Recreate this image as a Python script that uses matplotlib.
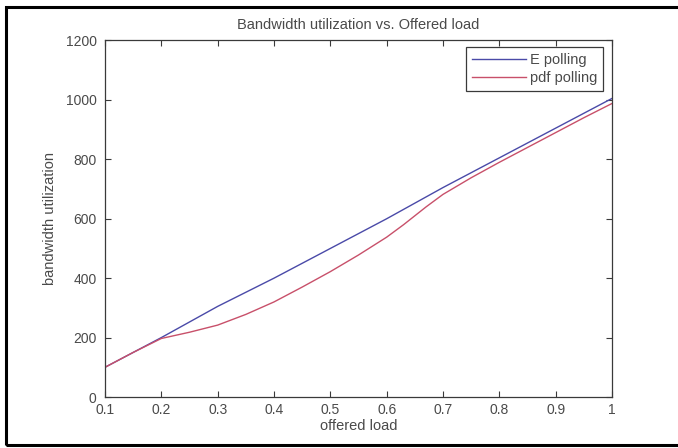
import matplotlib.pyplot as plt
from matplotlib.patches import Rectangle

# offered load vs. bandwidth utilization
load_e = [0.1, 0.2, 0.3, 0.4, 0.5, 0.6, 0.7, 0.8, 0.9, 1.0]
util_e = [100, 200, 305, 400, 500, 600, 705, 805, 905, 1005]

load_pdf = [0.1, 0.15, 0.2, 0.25, 0.3, 0.35, 0.4, 0.45, 0.5, 0.55,
            0.6, 0.63, 0.67, 0.7, 0.75, 0.8, 0.85, 0.9, 0.95, 1.0]
util_pdf = [100, 150, 197, 218, 242, 278, 320, 370, 422, 478,
            538, 580, 640, 682, 738, 790, 840, 890, 940, 988]

xticks = [0.1, 0.2, 0.3, 0.4, 0.5, 0.6, 0.7, 0.8, 0.9, 1]
xticklabels = ['0.1', '0.2', '0.3', '0.4', '0.5', '0.6', '0.7', '0.8', '0.9', '1']
yticks = [0, 200, 400, 600, 800, 1000, 1200]

plt.rcParams['font.family'] = ['Liberation Sans', 'DejaVu Sans']
axcol = '#3a3a3a'
txtcol = '#4a4a4a'

W, H = 678, 448
fig = plt.figure(figsize=(W / 100, H / 100), dpi=100)
ax = fig.add_axes([105 / W, 1 - 397 / H, (612 - 105) / W, (397 - 40.5) / H])

ax.plot(load_e, util_e, color='#4a4aa8', lw=1.0, label='E polling')
ax.plot(load_pdf, util_pdf, color='#c8506a', lw=1.0, label='pdf polling')

ax.set_xlim(0.1, 1)
ax.set_ylim(0, 1200)
ax.set_xticks(xticks)
ax.set_xticklabels(xticklabels)
ax.set_yticks(yticks)

ax.tick_params(direction='in', length=4, width=0.8, top=True, right=True,
               colors=axcol, labelcolor=txtcol, labelsize=10)
ax.tick_params(axis='y', pad=6)
ax.tick_params(axis='x', pad=4)
for s in ax.spines.values():
    s.set_color(axcol)
    s.set_linewidth(0.9)

ax.set_title('Bandwidth utilization vs. Offered load', fontsize=10.5,
             color=txtcol, pad=8)
ax.set_xlabel('offered load', fontsize=10.5, color=txtcol, labelpad=2)
ax.set_ylabel('bandwidth utilization', fontsize=10.5, color=txtcol, labelpad=6)

leg = ax.legend(loc='upper right', bbox_to_anchor=(603 / W, 1 - 47 / H),
                bbox_transform=fig.transFigure, borderaxespad=0,
                fancybox=False, framealpha=1, edgecolor=axcol,
                fontsize=10.5, handlelength=3.7, handletextpad=0.25,
                labelspacing=0.3, borderpad=0.4)
leg.get_frame().set_linewidth(0.9)
for t in leg.get_texts():
    t.set_color(txtcol)

# black frame around the picture
fig.patches.append(Rectangle((6 / W, 1 - 445 / H), 1.2, (445 - 7) / H,
                             transform=fig.transFigure, fill=False,
                             edgecolor='black', lw=2.2))

fig.savefig('out.png', dpi=100)
